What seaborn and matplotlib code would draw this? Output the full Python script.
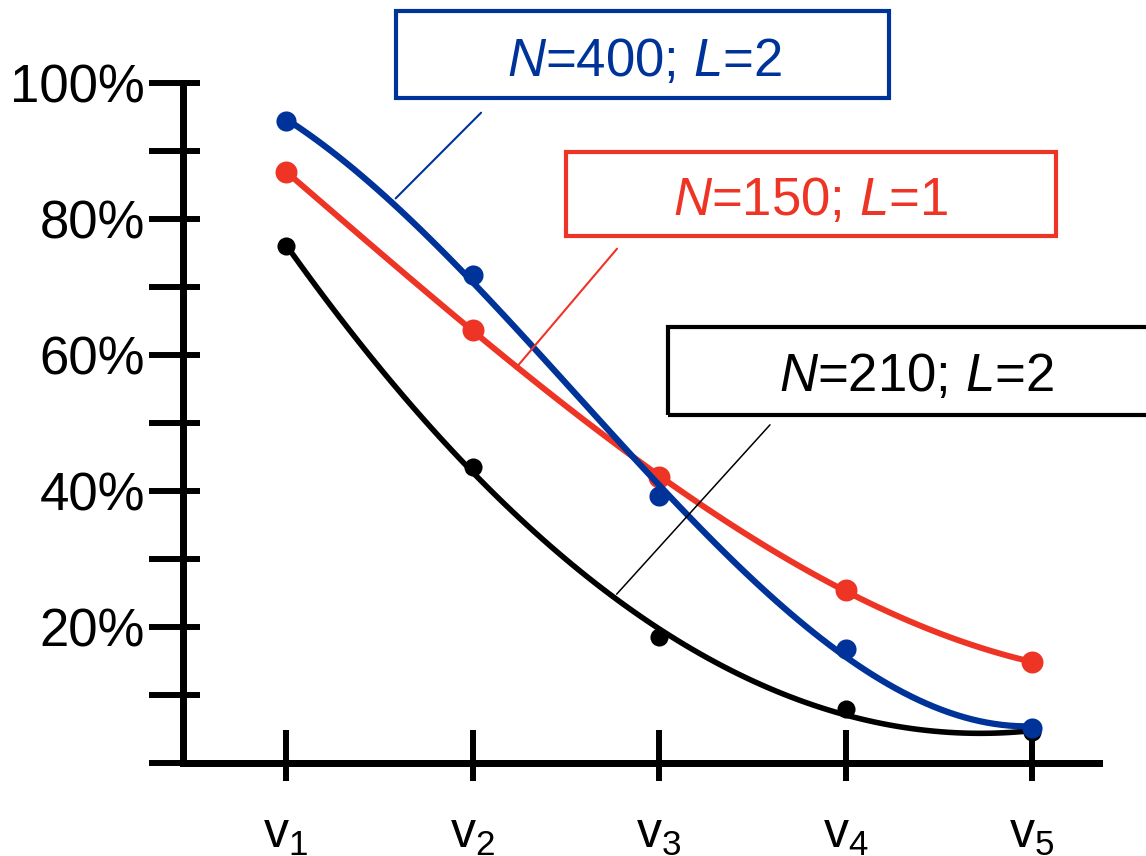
import matplotlib
matplotlib.use("Agg")
import matplotlib.pyplot as plt
from matplotlib.patches import Rectangle
import seaborn as sns

# Values (percent)
positions = [1, 2, 3, 4, 5]
tick_labels = ["v$_1$", "v$_2$", "v$_3$", "v$_4$", "v$_5$"]
n400_l2 = [94.5, 71.9, 39.3, 16.8, 5.2]
n150_l1 = [87.0, 63.8, 42.1, 25.5, 14.9]
n210_l2 = [76.1, 43.6, 18.6, 8.0, 4.6]

y_major = [0, 20, 40, 60, 80, 100]
y_major_labels = ["", "20%", "40%", "60%", "80%", "100%"]
y_minor = [10, 30, 50, 70, 90]

BLUE = "#003399"
RED = "#EE3424"
BLACK = "#000000"

sns.set_style("ticks")
plt.rcParams["font.family"] = ["Liberation Sans", "DejaVu Sans"]
plt.rcParams["mathtext.fontset"] = "custom"
plt.rcParams["mathtext.rm"] = "Liberation Sans"
plt.rcParams["mathtext.it"] = "Liberation Sans:italic"
plt.rcParams["mathtext.default"] = "regular"
plt.rcParams["axes.edgecolor"] = "black"
plt.rcParams["xtick.color"] = "black"
plt.rcParams["ytick.color"] = "black"
plt.rcParams["text.color"] = "black"
plt.rcParams["axes.labelcolor"] = "black"

fig = plt.figure(figsize=(11.46, 8.56), dpi=100)
ax = fig.add_axes([0.1601, 0.1081, 0.7989, 0.7944])

# curves: polynomial fit through the points, drawn back to front
series = [(n210_l2, BLACK, 170, 4.0, 2), (n150_l1, RED, 250, 4.3, 3), (n400_l2, BLUE, 210, 4.5, 3)]
for vals, col, size, lw, order in series:
    sns.regplot(x=positions, y=vals, order=order, ci=None, ax=ax, color=col,
                scatter_kws={"s": size, "linewidths": 0, "alpha": 1, "zorder": 3},
                line_kws={"lw": lw, "zorder": 3})

ax.set_xlim(0.4504, 5.359)
ax.set_ylim(0, 100)
ax.set_xlabel("")
ax.set_ylabel("")

for side in ["top", "right"]:
    ax.spines[side].set_visible(False)
for side in ["left", "bottom"]:
    ax.spines[side].set_linewidth(5)

ax.set_xticks(positions, labels=tick_labels)
ax.set_yticks(y_major, labels=y_major_labels)
ax.set_yticks(y_minor, minor=True)
ax.tick_params(axis="x", direction="out", length=13, width=4.3, pad=22, labelsize=36, labelcolor="black")
ax.tick_params(axis="y", which="both", direction="out", length=24.8, width=4.3, pad=3, labelsize=38,
               labelcolor="black")

# inner part of the crossing ticks
sx = ax.secondary_xaxis(0)
sx.set_xticks(positions)
sx.tick_params(direction="in", length=24, width=4.3, labelbottom=False)
sx.spines["bottom"].set_linewidth(5)
sy = ax.secondary_yaxis(0)
sy.set_yticks(y_major)
sy.set_yticks(y_minor, minor=True)
sy.tick_params(which="both", direction="in", length=11.9, width=4.3, labelleft=False)
sy.spines["left"].set_linewidth(5)

# label boxes
boxes = [
    ("$\\mathit{N}$=400; $\\mathit{L}$=2", BLUE, (0.3455, 0.8855, 0.4302, 0.1016), (0.562, 0.9112)),
    ("$\\mathit{N}$=150; $\\mathit{L}$=1", RED, (0.4939, 0.7243, 0.4276, 0.0981), (0.7077, 0.7484)),
    ("$\\mathit{N}$=210; $\\mathit{L}$=2", BLACK, (0.5829, 0.5152, 0.4328, 0.1028), (0.7993, 0.5432)),
]
for text, col, (bx, by, bw, bh), (tx, ty) in boxes:
    fig.patches.append(Rectangle((bx, by), bw, bh, transform=fig.transFigure,
                                 fill=False, edgecolor=col, lw=3, zorder=5))
    fig.text(tx, ty, text, color=col, fontsize=38, ha="center", va="baseline")

# connector lines from the boxes to the curves
connectors = [
    (BLUE, (2.046, 95.7), (1.588, 83.1), 1.5),
    (RED, (2.775, 75.7), (2.231, 58.1), 1.5),
    (BLACK, (3.595, 49.8), (2.773, 24.9), 1.1),
]
for col, start, end, lw in connectors:
    ax.annotate("", xy=end, xytext=start, textcoords="data", annotation_clip=False,
                arrowprops=dict(arrowstyle="-", color=col, lw=lw, shrinkA=0, shrinkB=0))

plt.savefig("out.png", dpi=100)
